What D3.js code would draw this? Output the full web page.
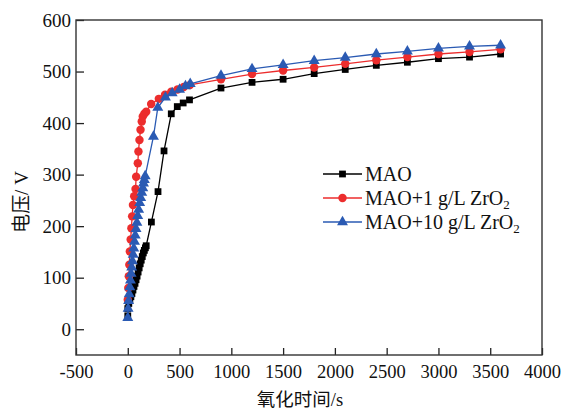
<!DOCTYPE html>
<html>
<head>
<meta charset="utf-8">
<script src="https://cdn.jsdelivr.net/npm/d3@7"></script>
<style>
body{margin:0;background:#fff}
</style>
</head>
<body>
<div id="chart-area"></div>
<script>
// voltage vs oxidation time, three electrolytes
const maoTime = [0,0,10,20,30,40,50,60,70,80,90,100,110,120,130,140,150,160,170,178,228,292,350,420,478,535,596,900,1200,1500,1800,2100,2400,2700,3000,3300,3600]
const maoVolt = [26,40,50,57,63,69,76,83,89,96,103,111,119,127,134,141,148,153,158,162,208,267,346,418,432,439,445,468,479,485,496,504,512,518,525,528,534]

const zr1Time = [0,5,10,15,20,28,35,42,50,62,75,81,97,103,113,123,135,145,160,178,226,300,360,420,480,540,600,900,1200,1500,1800,2100,2400,2700,3000,3300,3600]
const zr1Volt = [57,80,103,125,151,174,196,219,241,258,272,296,322,345,367,387,403,413,418,422,437,447,455,461,465,470,474,485,495,502,508,515,522,528,534,538,543]

const zr10Time = [0,3,8,14,20,26,32,38,45,52,58,65,72,80,88,96,105,115,125,135,145,152,160,168,248,290,364,429,500,557,603,900,1200,1500,1800,2100,2400,2700,3000,3300,3600]
const zr10Volt = [22,40,55,68,82,95,108,120,132,145,157,170,182,195,207,220,232,245,255,265,274,283,290,297,374,430,450,458,465,472,476,492,505,513,521,527,534,539,545,549,551]

const xTicks = [-500,0,500,1000,1500,2000,2500,3000,3500,4000]
const yTicks = [0,100,200,300,400,500,600]

const seriesNames = ["MAO","MAO+1 g/L ZrO","MAO+10 g/L ZrO"]
const seriesColors = ["#000000","#ec2d2d","#2a5ab3"]
const seriesShapes = [d3.symbolSquare,d3.symbolCircle,d3.symbolTriangle]
const seriesSizes = [46,56,52]

const MARGIN = {LEFT:76,RIGHT:22,TOP:20,BOTTOM:58}
const WIDTH = 564 - MARGIN.LEFT - MARGIN.RIGHT
const HEIGHT = 413 - MARGIN.TOP - MARGIN.BOTTOM

const svg = d3.select("#chart-area").append("svg")
	.attr("width",564)
	.attr("height",413)

const g = svg.append("g")
	.attr("transform",`translate(${MARGIN.LEFT},${MARGIN.TOP})`)

const x = d3.scaleLinear()
	.domain([-500,4000])
	.range([0,WIDTH])

const y = d3.scaleLinear()
	.domain([-50,600])
	.range([HEIGHT,0])

const serif = "Liberation Serif, Times New Roman, serif"
const cjk = "Noto Sans CJK SC, sans-serif"

// axes with inward ticks
const xAxisGroup = g.append("g")
	.attr("transform",`translate(0,${HEIGHT})`)
	.call(d3.axisBottom(x).tickValues(xTicks).tickSizeInner(-7).tickSizeOuter(0).tickPadding(10).tickFormat(d=>d))
	.attr("font-family",serif)
	.attr("font-size",18.5)
xAxisGroup.select(".domain").remove()
xAxisGroup.selectAll("line").attr("stroke","#222").attr("stroke-width",1.3)
xAxisGroup.selectAll("text").attr("fill","#111")

const yAxisGroup = g.append("g")
	.call(d3.axisLeft(y).tickValues(yTicks).tickSizeInner(-8).tickSizeOuter(0).tickPadding(5))
	.attr("font-family",serif)
	.attr("font-size",19)
yAxisGroup.select(".domain").remove()
yAxisGroup.selectAll("line").attr("stroke","#222").attr("stroke-width",1.3)
yAxisGroup.selectAll("text").attr("fill","#111")

// frame
g.append("rect")
	.attr("width",WIDTH)
	.attr("height",HEIGHT)
	.attr("fill","none")
	.attr("stroke","#333")
	.attr("stroke-width",1.4)

const series = [
	{time:maoTime,volt:maoVolt},
	{time:zr1Time,volt:zr1Volt},
	{time:zr10Time,volt:zr10Volt}
]

const line = d3.line()
	.x(d=>x(d[0]))
	.y(d=>y(d[1]))

series.forEach((s,i)=>{
	const pts = s.time.map((t,j)=>[t,s.volt[j]])
	g.append("path")
		.datum(pts)
		.attr("fill","none")
		.attr("stroke",seriesColors[i])
		.attr("stroke-width",1.3)
		.attr("d",line)
	g.selectAll(".pt"+i)
		.data(pts)
		.enter().append("path")
		.attr("class","pt"+i)
		.attr("transform",d=>`translate(${x(d[0])},${y(d[1])})`)
		.attr("d",d3.symbol().type(seriesShapes[i]).size(seriesSizes[i]))
		.attr("fill",seriesColors[i])
})

// legend
const legend = g.append("g")
	.attr("transform",`translate(${323-MARGIN.LEFT},${174-MARGIN.TOP})`)

seriesNames.forEach((name,i)=>{
	const row = legend.append("g")
		.attr("transform",`translate(0,${i*24})`)
	row.append("line")
		.attr("x1",0).attr("x2",39)
		.attr("stroke",seriesColors[i])
		.attr("stroke-width",1.3)
	row.append("path")
		.attr("transform","translate(19.5,0)")
		.attr("d",d3.symbol().type(seriesShapes[i]).size(seriesSizes[i]))
		.attr("fill",seriesColors[i])
	const txt = row.append("text")
		.attr("x",42)
		.attr("y",7)
		.attr("font-family",serif)
		.attr("font-size",20)
		.attr("fill","#111")
		.text(name)
	if(i>0){
		txt.append("tspan")
			.attr("dy",4)
			.attr("font-size",13)
			.text("2")
	}
})

// axis titles
const xTitle = svg.append("text")
	.attr("x",300)
	.attr("y",406)
	.attr("text-anchor","middle")
	.attr("font-family",cjk)
	.attr("font-size",18.5)
	.attr("fill","#111")
	.text("氧化时间")
xTitle.append("tspan")
	.attr("font-family",serif)
	.text("/s")

const yTitle = svg.append("text")
	.attr("transform","translate(28,202) rotate(-90)")
	.attr("text-anchor","middle")
	.attr("font-family",cjk)
	.attr("font-size",19)
	.attr("fill","#111")
	.text("电压")
yTitle.append("tspan")
	.attr("font-family",serif)
	.text("/ V")
</script>
</body>
</html>
